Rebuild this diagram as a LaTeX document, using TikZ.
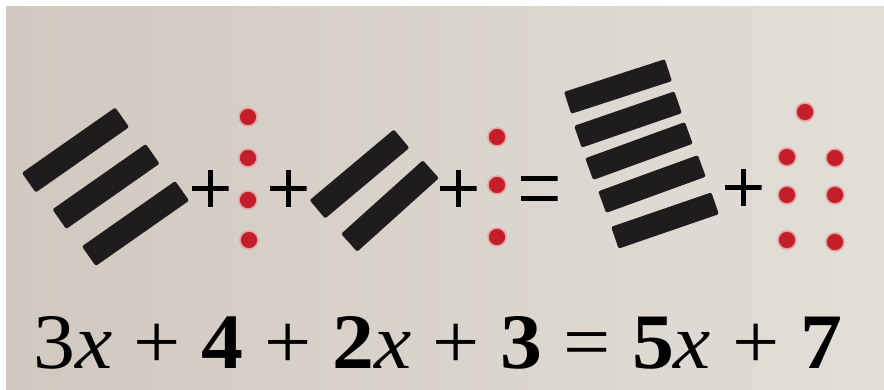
\documentclass[tikz,border=0pt]{standalone}
\usepackage{fontspec}
\setmainfont{Liberation Serif}
\usepackage{graphicx}
\definecolor{bgL}{HTML}{D0C9C0}
\definecolor{bgR}{HTML}{E2DED8}
\definecolor{barc}{HTML}{1E1C1D}
\definecolor{dotc}{HTML}{C41E2A}
\definecolor{halo}{HTML}{E6A3A3}
\begin{document}
\begin{tikzpicture}[x=1pt,y=-1pt,
  bar/.style={draw=none, fill=barc, rectangle, rounded corners=2pt,
    minimum width=114pt, minimum height=24pt, inner sep=0pt},
  bartwo/.style={bar, minimum width=110pt},
  barfive/.style={bar, minimum width=106pt, minimum height=23pt},
  dot/.style={circle, fill=dotc, draw=halo, line width=1.5pt,
    minimum size=18pt, inner sep=0pt},
  plussign/.style={minimum size=37pt, inner sep=0pt,
    path picture={\draw[line width=5pt, black]
      (path picture bounding box.west) -- (path picture bounding box.east)
      (path picture bounding box.north) -- (path picture bounding box.south);}},
  eqsign/.style={minimum width=37pt, minimum height=27pt, inner sep=0pt,
    path picture={\draw[line width=5pt, black]
      ([yshift=10pt]path picture bounding box.west) -- ([yshift=10pt]path picture bounding box.east)
      ([yshift=-10pt]path picture bounding box.west) -- ([yshift=-10pt]path picture bounding box.east);}}]
\useasboundingbox (0,0) rectangle (884,389);
\fill[white] (0,0) rectangle (884,389);
\shade[left color=bgL, right color=bgR] (6,6) rectangle (884,389);

% group 1: 3x
\node[bar, rotate=35] (a1) at (75.5,150) {};
\node[bar, rotate=35] (a2) at (106,186.5) {};
\node[bar, rotate=35] (a3) at (135.5,223.5) {};
\node[plussign] (p1) at (210,188) {};
% group 1: 4
\node[dot] (u1) at (248,117) {};
\node[dot] (u2) at (248,158) {};
\node[dot] (u3) at (248,200) {};
\node[dot] (u4) at (249,240) {};
\node[plussign] (p2) at (288,188) {};
% group 2: 2x
\node[bartwo, rotate=40] (b1) at (359.5,174) {};
\node[bartwo, rotate=42] (b2) at (390,206) {};
\node[plussign] (p3) at (458,188) {};
% group 2: 3
\node[dot] (v1) at (497,137) {};
\node[dot] (v2) at (497,185) {};
\node[dot] (v3) at (497,237) {};
\node[eqsign] (e1) at (539,188) {};
% group 3: 5x
\node[barfive, rotate=18] (c1) at (618,86.5) {};
\node[barfive, rotate=19] (c2) at (628,119.5) {};
\node[barfive, rotate=20] (c3) at (639,151) {};
\node[barfive, rotate=20] (c4) at (652,184) {};
\node[barfive, rotate=19] (c5) at (665,220.5) {};
\node[plussign] (p4) at (743,187) {};
% group 3: 7
\node[dot] (w1) at (805,112) {};
\node[dot] (w2) at (787,157) {};
\node[dot] (w3) at (835,158) {};
\node[dot] (w4) at (787,195) {};
\node[dot] (w5) at (835,195) {};
\node[dot] (w6) at (787,240) {};
\node[dot] (w7) at (835,242) {};

% equation
\node[anchor=south west, inner sep=0pt] (eq) at (33,369)
  {\resizebox{809pt}{52pt}{\fontsize{60}{60}\selectfont 3\textit{x} + \textbf{4} + \textbf{2}\textit{x} + \textbf{3} = \textbf{5}\textit{x} + \textbf{7}}};
\end{tikzpicture}
\end{document}
